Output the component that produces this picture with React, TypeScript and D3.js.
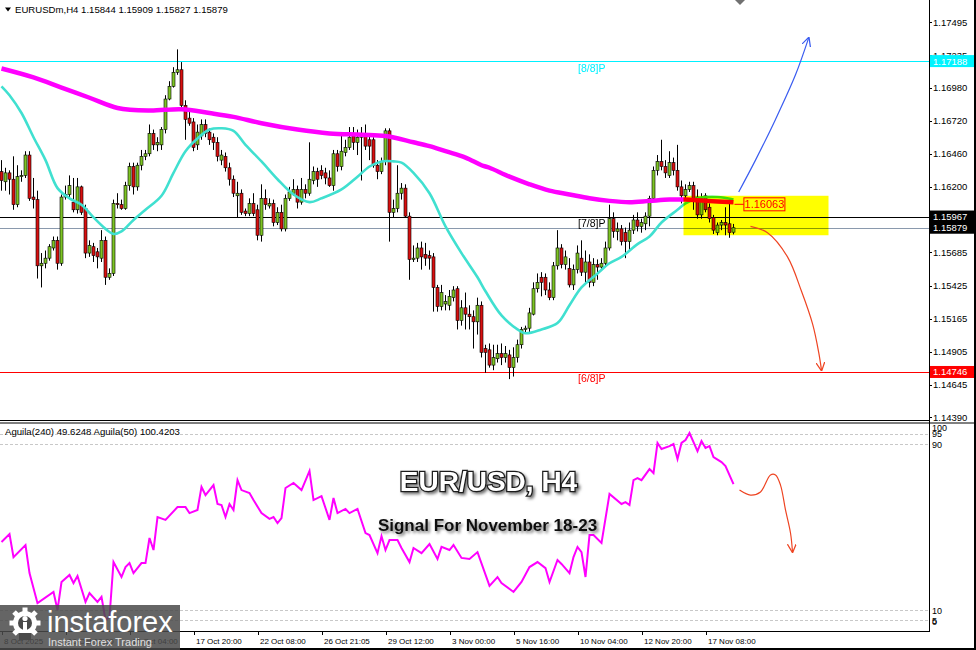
import React from "react";
import * as d3 from "d3";

type OHLC = [number, number, number, number];

// [open, high, low, close], one per H4 bar (bar 0 = 8 Oct 2025 04:00)
const candles: OHLC[] = [
  [1.1632, 1.1641, 1.1617, 1.1625], [1.1624, 1.1635, 1.1617, 1.1631], [1.1631, 1.1633, 1.1614, 1.1626], [1.1626, 1.1644, 1.1602, 1.1606],
  [1.1606, 1.1637, 1.1604, 1.1628], [1.1628, 1.1633, 1.1624, 1.1629], [1.1629, 1.1648, 1.1627, 1.1645], [1.1645, 1.1648, 1.1609, 1.1611],
  [1.1612, 1.1627, 1.1603, 1.1610], [1.1610, 1.1617, 1.1548, 1.1558], [1.1558, 1.1568, 1.1541, 1.1560], [1.1560, 1.1570, 1.1556, 1.1564],
  [1.1564, 1.1575, 1.1562, 1.1573], [1.1572, 1.1581, 1.1570, 1.1578], [1.1578, 1.1581, 1.1555, 1.1560], [1.1560, 1.1614, 1.1558, 1.1612],
  [1.1612, 1.1621, 1.1610, 1.1614], [1.1614, 1.1629, 1.1612, 1.1621], [1.1608, 1.1627, 1.1600, 1.1602], [1.1602, 1.1627, 1.1599, 1.1620],
  [1.1620, 1.1621, 1.1598, 1.1600], [1.1603, 1.1606, 1.1564, 1.1568], [1.1568, 1.1578, 1.1565, 1.1574], [1.1573, 1.1576, 1.1561, 1.1566],
  [1.1569, 1.1572, 1.1556, 1.1565], [1.1564, 1.1586, 1.1561, 1.1578], [1.1578, 1.1581, 1.1543, 1.1549], [1.1549, 1.1556, 1.1547, 1.1552],
  [1.1552, 1.1610, 1.1550, 1.1607], [1.1607, 1.1615, 1.1603, 1.1606], [1.1606, 1.1610, 1.1602, 1.1603], [1.1603, 1.1624, 1.1602, 1.1621],
  [1.1621, 1.1639, 1.1617, 1.1636], [1.1636, 1.1639, 1.1614, 1.1620], [1.1620, 1.1639, 1.1617, 1.1637], [1.1637, 1.1649, 1.1633, 1.1644],
  [1.1644, 1.1649, 1.1641, 1.1646], [1.1646, 1.1669, 1.1644, 1.1662], [1.1662, 1.1665, 1.1649, 1.1653], [1.1653, 1.1659, 1.1648, 1.1655],
  [1.1653, 1.1667, 1.1649, 1.1665], [1.1665, 1.1692, 1.1662, 1.1689], [1.1689, 1.1703, 1.1688, 1.1699], [1.1699, 1.1714, 1.1698, 1.1710],
  [1.1710, 1.1728, 1.1708, 1.1712], [1.1712, 1.1718, 1.1682, 1.1684], [1.1684, 1.1688, 1.1657, 1.1673], [1.1674, 1.1681, 1.1668, 1.1670],
  [1.1671, 1.1674, 1.1648, 1.1651], [1.1653, 1.1669, 1.1649, 1.1663], [1.1660, 1.1673, 1.1657, 1.1669], [1.1669, 1.1673, 1.1659, 1.1662],
  [1.1663, 1.1666, 1.1653, 1.1657], [1.1659, 1.1662, 1.1649, 1.1655], [1.1655, 1.1659, 1.1640, 1.1644], [1.1641, 1.1649, 1.1637, 1.1645],
  [1.1644, 1.1647, 1.1632, 1.1635], [1.1635, 1.1639, 1.1621, 1.1626], [1.1626, 1.1629, 1.1612, 1.1615], [1.1613, 1.1624, 1.1596, 1.1615],
  [1.1615, 1.1618, 1.1598, 1.1600], [1.1601, 1.1603, 1.1597, 1.1599], [1.1599, 1.1611, 1.1597, 1.1607], [1.1607, 1.1615, 1.1597, 1.1599],
  [1.1602, 1.1606, 1.1578, 1.1582], [1.1582, 1.1622, 1.1577, 1.1611], [1.1611, 1.1618, 1.1602, 1.1606], [1.1605, 1.1611, 1.1603, 1.1607],
  [1.1607, 1.1610, 1.1589, 1.1592], [1.1592, 1.1604, 1.1590, 1.1600], [1.1600, 1.1606, 1.1585, 1.1587], [1.1587, 1.1614, 1.1585, 1.1611],
  [1.1611, 1.1620, 1.1609, 1.1616], [1.1615, 1.1626, 1.1613, 1.1618], [1.1618, 1.1621, 1.1603, 1.1608], [1.1608, 1.1627, 1.1606, 1.1618],
  [1.1618, 1.1622, 1.1611, 1.1615], [1.1615, 1.1655, 1.1613, 1.1626], [1.1625, 1.1636, 1.1622, 1.1632], [1.1632, 1.1635, 1.1620, 1.1626],
  [1.1633, 1.1637, 1.1626, 1.1629], [1.1631, 1.1635, 1.1622, 1.1627], [1.1627, 1.1633, 1.1620, 1.1621], [1.1621, 1.1649, 1.1617, 1.1646],
  [1.1646, 1.1649, 1.1632, 1.1636], [1.1636, 1.1661, 1.1633, 1.1648], [1.1647, 1.1657, 1.1644, 1.1651], [1.1651, 1.1667, 1.1649, 1.1659],
  [1.1660, 1.1667, 1.1649, 1.1655], [1.1655, 1.1665, 1.1645, 1.1659], [1.1659, 1.1667, 1.1625, 1.1660], [1.1660, 1.1669, 1.1649, 1.1652],
  [1.1657, 1.1662, 1.1641, 1.1652], [1.1657, 1.1659, 1.1635, 1.1637], [1.1637, 1.1641, 1.1626, 1.1632], [1.1632, 1.1643, 1.1630, 1.1640],
  [1.1640, 1.1666, 1.1637, 1.1664], [1.1664, 1.1666, 1.1577, 1.1600], [1.1600, 1.1610, 1.1596, 1.1603], [1.1603, 1.1637, 1.1600, 1.1615],
  [1.1615, 1.1623, 1.1610, 1.1619], [1.1619, 1.1622, 1.1596, 1.1597], [1.1597, 1.1600, 1.1547, 1.1563], [1.1563, 1.1574, 1.1561, 1.1564],
  [1.1564, 1.1576, 1.1561, 1.1572], [1.1572, 1.1577, 1.1555, 1.1565], [1.1567, 1.1576, 1.1558, 1.1564], [1.1566, 1.1570, 1.1555, 1.1564],
  [1.1565, 1.1568, 1.1522, 1.1541], [1.1541, 1.1543, 1.1522, 1.1526], [1.1526, 1.1543, 1.1523, 1.1537], [1.1528, 1.1535, 1.1523, 1.1530],
  [1.1527, 1.1539, 1.1523, 1.1534], [1.1533, 1.1542, 1.1530, 1.1539], [1.1540, 1.1542, 1.1508, 1.1515], [1.1515, 1.1531, 1.1511, 1.1525],
  [1.1525, 1.1537, 1.1508, 1.1520], [1.1520, 1.1527, 1.1508, 1.1518], [1.1518, 1.1523, 1.1493, 1.1514], [1.1514, 1.1533, 1.1504, 1.1527],
  [1.1527, 1.1530, 1.1486, 1.1490], [1.1493, 1.1496, 1.1474, 1.1490], [1.1492, 1.1497, 1.1478, 1.1480], [1.1480, 1.1496, 1.1476, 1.1486],
  [1.1485, 1.1496, 1.1482, 1.1489], [1.1489, 1.1497, 1.1480, 1.1486], [1.1486, 1.1495, 1.1482, 1.1489], [1.1488, 1.1492, 1.1469, 1.1478],
  [1.1478, 1.1494, 1.1471, 1.1486], [1.1486, 1.1500, 1.1482, 1.1496], [1.1496, 1.1510, 1.1493, 1.1508], [1.1508, 1.1511, 1.1505, 1.1509],
  [1.1509, 1.1525, 1.1506, 1.1521], [1.1520, 1.1545, 1.1519, 1.1540], [1.1540, 1.1552, 1.1537, 1.1545], [1.1549, 1.1553, 1.1534, 1.1545],
  [1.1549, 1.1552, 1.1535, 1.1539], [1.1539, 1.1545, 1.1531, 1.1533], [1.1533, 1.1561, 1.1531, 1.1558], [1.1558, 1.1586, 1.1555, 1.1572],
  [1.1572, 1.1575, 1.1556, 1.1559], [1.1559, 1.1570, 1.1555, 1.1565], [1.1556, 1.1564, 1.1541, 1.1543], [1.1543, 1.1559, 1.1539, 1.1555],
  [1.1555, 1.1574, 1.1552, 1.1568], [1.1564, 1.1578, 1.1550, 1.1553], [1.1553, 1.1570, 1.1543, 1.1561], [1.1561, 1.1567, 1.1541, 1.1545],
  [1.1545, 1.1564, 1.1542, 1.1559], [1.1559, 1.1563, 1.1547, 1.1557], [1.1557, 1.1564, 1.1555, 1.1560], [1.1560, 1.1577, 1.1558, 1.1572],
  [1.1572, 1.1606, 1.1570, 1.1595], [1.1595, 1.1600, 1.1580, 1.1585], [1.1585, 1.1592, 1.1578, 1.1587], [1.1587, 1.1590, 1.1574, 1.1577],
  [1.1584, 1.1588, 1.1564, 1.1577], [1.1577, 1.1592, 1.1570, 1.1586], [1.1586, 1.1598, 1.1583, 1.1594], [1.1594, 1.1600, 1.1585, 1.1589],
  [1.1589, 1.1595, 1.1584, 1.1592], [1.1591, 1.1600, 1.1586, 1.1597], [1.1597, 1.1613, 1.1589, 1.1611], [1.1611, 1.1636, 1.1609, 1.1633],
  [1.1633, 1.1645, 1.1629, 1.1640], [1.1640, 1.1657, 1.1633, 1.1636], [1.1636, 1.1641, 1.1627, 1.1631], [1.1629, 1.1648, 1.1627, 1.1639],
  [1.1639, 1.1643, 1.1629, 1.1633], [1.1633, 1.1653, 1.1617, 1.1620], [1.1620, 1.1625, 1.1607, 1.1613], [1.1613, 1.1622, 1.1610, 1.1618],
  [1.1618, 1.1624, 1.1616, 1.1621], [1.1621, 1.1624, 1.1602, 1.1610], [1.1612, 1.1618, 1.1595, 1.1598], [1.1598, 1.1615, 1.1595, 1.1611],
  [1.1613, 1.1615, 1.1600, 1.1602], [1.1604, 1.1607, 1.1592, 1.1595], [1.1596, 1.1598, 1.1583, 1.1586], [1.1584, 1.1592, 1.1582, 1.1590],
  [1.1590, 1.1594, 1.1586, 1.1592], [1.1592, 1.1604, 1.1582, 1.1590], [1.1591, 1.1607, 1.1580, 1.1584], [1.15844, 1.15909, 1.15827, 1.15879],
];

// slow moving average (magenta), [bar, price]
const maSlow: [number, number][] = [
  [0, 1.1713], [8, 1.1706], [15, 1.1698], [22, 1.1690], [29, 1.1682], [37, 1.1680], [45, 1.1681], [52, 1.1678],
  [58, 1.1675], [65, 1.1670], [74, 1.1665], [82, 1.1662], [90, 1.1661], [96, 1.1660], [103, 1.1655], [107, 1.1652],
  [111, 1.1648], [116, 1.1643], [120, 1.1637], [122, 1.1635], [127, 1.1628], [132, 1.1622], [137, 1.1617], [142, 1.1614],
  [147, 1.1611], [152, 1.1609], [157, 1.1608], [162, 1.1609], [167, 1.1610], [171, 1.1610], [176, 1.1609], [183, 1.1608],
];

// fast moving average (turquoise), [bar, price]
const maFast: [number, number][] = [
  [0, 1.1699], [2, 1.1692], [5, 1.1678], [8, 1.1659], [11, 1.1641], [14, 1.1619], [17, 1.1611], [20, 1.1606],
  [23, 1.1596], [26, 1.1587], [28, 1.1583], [30, 1.1585], [33, 1.1594], [36, 1.1602], [40, 1.1613], [43, 1.1631],
  [46, 1.1648], [49, 1.1658], [52, 1.1665], [55, 1.1666], [58, 1.1664], [61, 1.1653], [65, 1.1640], [69, 1.1626],
  [73, 1.1614], [77, 1.1608], [80, 1.1611], [85, 1.1618], [89, 1.1628], [92, 1.1636], [95, 1.1640], [98, 1.1640],
  [100, 1.1639], [103, 1.1631], [107, 1.1615], [111, 1.1589], [115, 1.1568], [119, 1.1549], [121, 1.1538], [125, 1.1519],
  [129, 1.1508], [131, 1.1505], [135, 1.1508], [139, 1.1513], [142, 1.1527], [145, 1.1541], [149, 1.1552], [152, 1.1560],
  [155, 1.1565], [159, 1.1575], [162, 1.1581], [165, 1.1592], [169, 1.1602], [171, 1.1607], [174, 1.1611], [179, 1.1612],
  [183, 1.1610],
];

// Aguila oscillator, [bar, value 0..100]
const aguila: [number, number][] = [
  [0, 42.8], [2, 46.6], [3, 35.5], [6, 41.3], [7, 27.8], [9, 13.3], [13, 18.7], [14, 10.0], [15, 23.5], [17, 26.9],
  [18, 23.0], [19, 26.4], [21, 13.9], [22, 18.2], [24, 13.9], [25, 16.3], [26, 5.2], [27, 6.6], [28, 33.1], [30, 25.9],
  [31, 30.7], [32, 32.6], [33, 27.8], [35, 32.6], [36, 32.6], [37, 44.7], [38, 38.9], [39, 54.8], [41, 53.4], [44, 59.6],
  [46, 59.6], [47, 56.7], [49, 58.2], [50, 69.3], [51, 65.4], [53, 70.2], [54, 61.1], [55, 60.6], [56, 54.8], [57, 61.1],
  [58, 58.2], [59, 72.6], [60, 67.8], [62, 66.4], [63, 63.0], [65, 56.7], [67, 53.9], [68, 54.8], [69, 51.9], [70, 54.3],
  [71, 68.8], [73, 71.2], [75, 67.8], [77, 77.0], [78, 63.0], [80, 64.9], [82, 53.4], [83, 64.0], [84, 56.7], [86, 58.7],
  [87, 56.7], [89, 58.7], [91, 47.1], [92, 46.1], [94, 37.4], [95, 45.6], [96, 38.9], [97, 43.7], [99, 43.7], [100, 39.9],
  [102, 33.1], [103, 39.9], [105, 37.4], [107, 41.8], [109, 34.6], [110, 40.4], [112, 38.9], [113, 41.3], [115, 35.1], [117, 34.6],
  [119, 37.9], [122, 21.6], [124, 25.9], [125, 23.0], [128, 18.7], [130, 23.5], [132, 30.7], [134, 33.1], [136, 30.2], [137, 23.5],
  [139, 34.1], [140, 32.2], [142, 27.8], [143, 35.5], [144, 40.4], [145, 37.9], [146, 25.9], [147, 46.1], [148, 46.1], [150, 42.3],
  [152, 65.9], [155, 61.1], [156, 62.0], [157, 60.6], [158, 72.6], [159, 73.6], [160, 72.6], [162, 77.9], [163, 76.0], [164, 90.5],
  [165, 87.6], [167, 89.0], [168, 90.0], [169, 82.8], [170, 90.5], [171, 91.9], [172, 95.3], [174, 86.6], [175, 91.4], [176, 88.1],
  [177, 89.0], [178, 83.7], [180, 81.3], [181, 79.4], [183, 70.7],
];

const priceTicks = [1.17495, 1.17235, 1.1698, 1.1672, 1.1646, 1.162, 1.15685, 1.15425, 1.15165, 1.14905, 1.14645, 1.1439];
const timeLabels = ["8 Oct 2025", "10 Oct 16:00", "15 Oct 04:00", "17 Oct 20:00", "22 Oct 08:00", "26 Oct 21:05",
  "29 Oct 12:00", "3 Nov 00:00", "5 Nov 16:00", "10 Nov 04:00", "12 Nov 20:00", "17 Nov 08:00"];
const murreyLevels = [
  { price: 1.17188, label: "[8/8]P", color: "#00f0ff", tag: "#00f4ff" },
  { price: 1.15967, label: "[7/8]P", color: "#000000", tag: "#000000" },
  { price: 1.14746, label: "[6/8]P", color: "#ff0000", tag: "#ff0000" },
];
const bidPrice = 1.15879;
const markedPrice = 1.16063;
const indLevels = [95, 90, 10, 5];
const indAxis = [100, 95, 90, 10, 5, 0];

// forecast annotations, [bar, price] / [bar, value]
const zoneBars = [170.5, 206.75];
const zonePrices = [1.1613, 1.1582];
const upArrow: [number, number][] = [[184.3, 1.1616], [188.5, 1.1641], [193.5, 1.1673], [198.5, 1.1708], [201.8, 1.1737]];
const downArrow: [number, number][] = [[187.25, 1.1589], [191.5, 1.1584], [196.5, 1.1565], [200.0, 1.1538], [202.8, 1.1512], [204.3, 1.1490], [205.0, 1.1476]];
const indArrow: [number, number][] = [[184.5, 67.8], [187.25, 65.4], [189.75, 66.9], [192.25, 75.1], [193.5, 75.1], [194.75, 70.2], [196, 58.2], [197.25, 47.1], [197.75, 38.0]];

export default function App() {
  const W = 976, H = 650;
  const R = 929;
  const font = "'Liberation Sans', Arial, sans-serif";
  const x = d3.scaleLinear().domain([0, 183]).range([1.5, 733.5]);
  const y = d3.scaleLinear().domain([1.1439, 1.17495]).range([417.3, 22]);
  const yi = d3.scaleLinear().domain([0, 100]).range([630.75, 423.25]);
  const smooth = d3.line<[number, number]>().x(d => x(d[0])).y(d => y(d[1])).curve(d3.curveCatmullRom.alpha(0.5));
  const indLine = d3.line<[number, number]>().x(d => x(d[0])).y(d => yi(d[1]));
  const indSmooth = d3.line<[number, number]>().x(d => x(d[0])).y(d => yi(d[1])).curve(d3.curveCatmullRom.alpha(0.5));
  const fmt = d3.format(".5f");
  const bull = "#7dc424", bear = "#d81010";
  const tagH = 12;

  return (
    <svg width={W} height={H} style={{ position: "absolute", left: 0, top: 0, background: "#fff" }} fontFamily={font}>
      <defs>
        <clipPath id="mainClip"><rect x={0} y={0} width={R} height={420} /></clipPath>
        <clipPath id="indClip"><rect x={0} y={423.5} width={R} height={207} /></clipPath>
        <marker id="ahBlue" viewBox="0 0 10 10" refX={9} refY={5} markerWidth={9} markerHeight={9} markerUnits="userSpaceOnUse" orient="auto">
          <path d="M0,0 L10,5 L0,10" fill="none" stroke="#3a5cf0" strokeWidth={1.4} />
        </marker>
        <marker id="ahRed" viewBox="0 0 10 10" refX={9} refY={5} markerWidth={9} markerHeight={9} markerUnits="userSpaceOnUse" orient="auto">
          <path d="M0,0 L10,5 L0,10" fill="none" stroke="#ee4422" strokeWidth={1.4} />
        </marker>
        <filter id="shadow" x="-10%" y="-30%" width="130%" height="180%">
          <feDropShadow dx={2} dy={2} stdDeviation={1.6} floodColor="#000" floodOpacity={0.55} />
        </filter>
      </defs>
      <rect x={0} y={0} width={W} height={H} fill="#fff" />

      {/* main panel */}
      <g clipPath="url(#mainClip)">
        {murreyLevels.map(m => (
          <line key={m.label} x1={0} x2={R} y1={Math.round(y(m.price)) + 0.5} y2={Math.round(y(m.price)) + 0.5} stroke={m.color} strokeWidth={1.2} />
        ))}
        <line x1={0} x2={R} y1={Math.round(y(bidPrice)) + 0.5} y2={Math.round(y(bidPrice)) + 0.5} stroke="#8a99ad" strokeWidth={1} />
        {candles.map((c, i) => {
          const [o, h, l, cl] = c;
          const cx = x(i);
          const top = y(Math.max(o, cl));
          const hh = Math.max(1, Math.abs(y(o) - y(cl)));
          return (
            <g key={i}>
              <line x1={cx} x2={cx} y1={y(h)} y2={y(l)} stroke="#000" strokeWidth={1} />
              <rect x={cx - 1.5} y={top} width={3} height={hh} fill={cl >= o ? bull : bear} stroke="#000" strokeWidth={0.6} />
            </g>
          );
        })}
        <path d={smooth(maFast) || ""} fill="none" stroke="#40e0d0" strokeWidth={2.6} />
        <path d={smooth(maSlow) || ""} fill="none" stroke="#ff00ff" strokeWidth={4.5} />
        {/* price label connector + box drawn under the highlight zone */}
        <line x1={x(183) + 1} x2={x(185.6)} y1={y(markedPrice)} y2={y(markedPrice)} stroke="#ff0000" strokeWidth={1} />
        <rect x={x(185.6)} y={y(markedPrice) - 6.5} width={41} height={13} fill="#fff" stroke="#ff0000" strokeWidth={1} />
        <rect x={x(zoneBars[0])} y={y(zonePrices[0])} width={x(zoneBars[1]) - x(zoneBars[0])} height={y(zonePrices[1]) - y(zonePrices[0])}
          fill="#ffff00" style={{ mixBlendMode: "multiply" }} />
        <text x={x(185.6) + 20.5} y={y(markedPrice) + 4} textAnchor="middle" fontSize={11} fill="#ff0000">{fmt(markedPrice)}</text>
        {murreyLevels.map(m => (
          <text key={m.label + "t"} x={578} y={y(m.price) + 10.5} fontSize={10.5} fill={m.color}>{m.label}</text>
        ))}
        <path d={smooth(upArrow) || ""} fill="none" stroke="#3a5cf0" strokeWidth={1.2} markerEnd="url(#ahBlue)" />
        <path d={smooth(downArrow) || ""} fill="none" stroke="#ee4422" strokeWidth={1.2} markerEnd="url(#ahRed)" />
        <path d="M735,0 L745,0 L740,5 Z" fill="#707070" />
      </g>

      {/* title */}
      <path d="M5,7.5 L11,7.5 L8,11.5 Z" fill="#000" />
      <text x={15} y={12.5} fontSize={9.6} fill="#000">EURUSDm,H4  1.15844 1.15909 1.15827 1.15879</text>

      {/* indicator panel */}
      <g clipPath="url(#indClip)">
        {indLevels.map(v => (
          <line key={v} x1={0} x2={R} y1={Math.round(yi(v)) + 0.5} y2={Math.round(yi(v)) + 0.5} stroke="#c8c8c8" strokeDasharray="3,2" strokeWidth={1} />
        ))}
        <path d={indLine(aguila) || ""} fill="none" stroke="#ff00ff" strokeWidth={2} />
        <path d={indSmooth(indArrow) || ""} fill="none" stroke="#ee4422" strokeWidth={1.2} markerEnd="url(#ahRed)" />
      </g>
      <text x={5} y={435} fontSize={9.6} fill="#000">Aguila(240) 49.6248  Aguila(50) 100.4203</text>

      {/* frames */}
      <line x1={0} x2={R} y1={420.5} y2={420.5} stroke="#000" />
      <line x1={0} x2={W} y1={423} y2={423} stroke="#000" />
      <line x1={0} x2={R} y1={631.5} y2={631.5} stroke="#000" />
      <line x1={R + 0.5} x2={R + 0.5} y1={0} y2={632} stroke="#000" />
      <line x1={W - 1} x2={W - 1} y1={0} y2={H} stroke="#000" strokeWidth={2} />
      <line x1={0} x2={W} y1={H - 1} y2={H - 1} stroke="#000" strokeWidth={2} />

      {/* price axis */}
      {priceTicks.map(p => (
        <g key={p}>
          <line x1={R} x2={R + 3} y1={Math.round(y(p)) + 0.5} y2={Math.round(y(p)) + 0.5} stroke="#000" />
          <text x={933} y={y(p) + 3.5} fontSize={9.5} fill="#000">{fmt(p)}</text>
        </g>
      ))}
      {[...murreyLevels.map(m => ({ p: m.price, c: m.tag })), { p: bidPrice, c: "#000000" }].map(t => (
        <g key={"tag" + t.p}>
          <rect x={R + 1} y={y(t.p) - tagH / 2} width={W - R - 3} height={tagH} fill={t.c} />
          <text x={933} y={y(t.p) + 3.5} fontSize={9.5} fill="#fff">{fmt(t.p)}</text>
        </g>
      ))}

      {/* indicator axis */}
      {indAxis.map(v => (
        <text key={v} x={932} y={Math.min(Math.max(yi(v) + 3.5, 431), 624.5)} fontSize={9} fill="#000">{v}</text>
      ))}

      {/* time axis */}
      {timeLabels.map((t, k) => {
        const tx = Math.round(x(k * 16));
        return (
          <g key={t}>
            <line x1={tx + 0.5} x2={tx + 0.5} y1={631} y2={635} stroke="#000" />
            <text x={tx + 2} y={644} fontSize={8} fill="#000">{t}</text>
          </g>
        );
      })}

      {/* headline */}
      <text x={488.5} y={491} textAnchor="middle" fontSize={28} fontWeight="bold" fill="#fff" stroke="#1a1a1a" strokeWidth={2.5}
        paintOrder="stroke" filter="url(#shadow)">EUR/USD, H4</text>
      <text x={487.5} y={530.5} textAnchor="middle" fontSize={17} fontWeight="bold" fill="#111" filter="url(#shadow)">Signal For November 18-23</text>

      {/* watermark */}
      <g>
        <rect x={0} y={605} width={180} height={45} fill="#4a4a4a" opacity={0.85} />
        <g fill="#fff">
          <circle cx={25} cy={623} r={12} />
          {d3.range(8).map(k => {
            const a = (k * Math.PI) / 4;
            return <rect key={k} x={25 + Math.cos(a) * 13 - 2.5} y={623 + Math.sin(a) * 13 - 2.5} width={5} height={5}
              transform={`rotate(${(k * 45)} ${25 + Math.cos(a) * 13} ${623 + Math.sin(a) * 13})`} />;
          })}
        </g>
        <circle cx={25} cy={623} r={7} fill="#4a4a4a" />
        <circle cx={25} cy={618.5} r={2.6} fill="#fff" />
        <rect x={23} y={622} width={4} height={14} fill="#fff" />
        <rect x={19} y={633} width={12} height={7} fill="#4a4a4a" />
        <text x={47} y={632} fontSize={29} fill="#fff" fontFamily="'Liberation Sans', Arial, sans-serif">instaforex</text>
        <text x={48} y={646} fontSize={11} fill="#e0e0e0">Instant Forex Trading</text>
      </g>
    </svg>
  );
}
